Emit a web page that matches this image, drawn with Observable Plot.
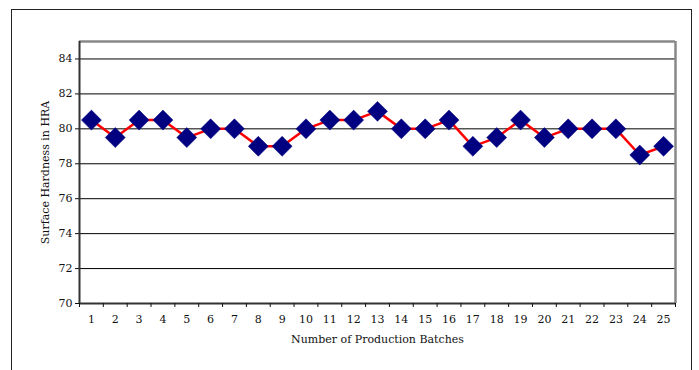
<!DOCTYPE html>
<html>
<head>
<meta charset="utf-8">
<script src="https://cdn.jsdelivr.net/npm/d3@7"></script>
<script src="https://cdn.jsdelivr.net/npm/@observablehq/plot@0.6"></script>
<style>
  html, body { margin: 0; padding: 0; background: #fff; }
  #wrap { position: relative; width: 699px; height: 370px; overflow: hidden; }
  #frame { position: absolute; left: 11px; top: 9px; width: 679px; height: 400px;
           border: 1.5px solid #222; border-bottom: none; }
  #chart { position: absolute; left: 0; top: 0; }
</style>
</head>
<body>
<div id="wrap">
  <div id="frame"></div>
  <div id="chart"></div>
</div>
<script>
// Production batches and measured surface hardness (HRA)
const batches = d3.range(1, 26);
const hardness = [80.5, 79.5, 80.5, 80.5, 79.5, 80, 80, 79, 79, 80,
                  80.5, 80.5, 81, 80, 80, 80.5, 79, 79.5, 80.5, 79.5,
                  80, 80, 80, 78.5, 79];
const yTicks = [70, 72, 74, 76, 78, 80, 82, 84];

const data = batches.map((b, i) => ({batch: b, value: hardness[i]}));
// category boundaries for the x tick marks
const bounds = batches.map(b => b - 0.5).concat([batches[batches.length - 1] + 0.5]);
const xmin = bounds[0], xmax = bounds[bounds.length - 1];

const font = "'DejaVu Serif', serif";

const chart = Plot.plot({
  width: 699,
  height: 370,
  marginLeft: 79,
  marginRight: 24,
  marginTop: 41,
  marginBottom: 67,
  style: {fontFamily: font, fontSize: "11px", color: "#111", background: "transparent"},
  x: {domain: [xmin, xmax]},
  y: {domain: [70, 85]},
  marks: [
    // horizontal gridlines
    Plot.ruleY(yTicks.filter(t => t > 70), {stroke: "#000", strokeWidth: 1}),
    // plot-area border: top and right in gray
    Plot.ruleY([85], {stroke: "#888", strokeWidth: 2.5}),
    Plot.ruleX([xmax], {stroke: "#888", strokeWidth: 2.5}),
    // axis lines
    Plot.ruleX([xmin], {stroke: "#333", strokeWidth: 2}),
    Plot.ruleY([70], {stroke: "#333", strokeWidth: 2}),
    Plot.axisY({
      ticks: yTicks, tickSize: 4, tickPadding: 3, tickFormat: d => d,
      label: "Surface Hardness in HRA", labelAnchor: "center", labelArrow: "none",
      labelOffset: 38
    }),
    Plot.axisX({ticks: bounds, tickSize: 4, tickFormat: () => "", label: null}),
    Plot.axisX({
      ticks: batches, tickSize: 0, tickPadding: 12, tickFormat: d => d,
      label: "Number of Production Batches", labelAnchor: "center", labelArrow: "none",
      labelOffset: 39
    }),
    Plot.line(data, {x: "batch", y: "value", stroke: "#ff0000", strokeWidth: 2.5}),
    Plot.dot(data, {x: "batch", y: "value", symbol: "diamond2", r: 9,
                    fill: "#000080", stroke: "#000080", strokeWidth: 0.5})
  ]
});
document.getElementById("chart").appendChild(chart);
</script>
</body>
</html>
